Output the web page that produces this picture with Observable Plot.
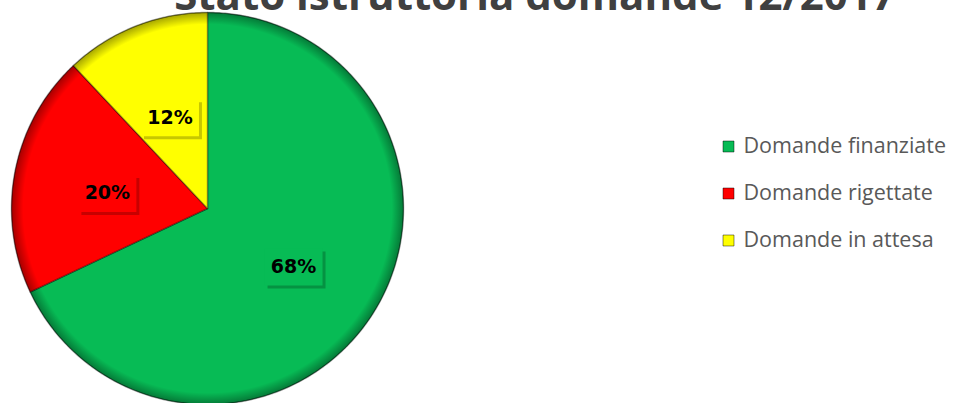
<!DOCTYPE html>
<html>
<head>
<meta charset="utf-8">
<script src="https://cdn.jsdelivr.net/npm/d3@7"></script>
<script src="https://cdn.jsdelivr.net/npm/@observablehq/plot@0.6"></script>
<style>
  html, body { margin: 0; padding: 0; background: #fff; }
  #chart { width: 953px; height: 403px; overflow: hidden; }
</style>
</head>
<body>
<div id="chart"></div>
<script>
const title = "Stato istruttoria domande 12/2017";
const categories = ["Domande finanziate", "Domande rigettate", "Domande in attesa"];
const values = [68, 20, 12];
const labels = ["68%", "20%", "12%"];
const colors = ["#07BB55", "#FF0000", "#FFFF00"];

const W = 953, H = 403;
const cx = 207, cy = 208, R = 196;

const data = categories.map((c, i) => ({category: c, value: values[i], label: labels[i]}));
const arcs = d3.pie().sort(null).value(d => d.value)(data);

// polygon points for each slice (unit circle coordinates, derived from data)
const slicePts = [];
arcs.forEach(a => {
  const n = Math.max(2, Math.ceil((a.endAngle - a.startAngle) / 0.01));
  slicePts.push({category: a.data.category, x: 0, y: 0});
  for (let k = 0; k <= n; k++) {
    const t = a.startAngle + (a.endAngle - a.startAngle) * k / n;
    slicePts.push({category: a.data.category, x: Math.sin(t), y: Math.cos(t)});
  }
});
const labelPts = arcs.map(a => {
  const m = (a.startAngle + a.endAngle) / 2;
  return {category: a.data.category, label: a.data.label, x: 0.52 * Math.sin(m), y: 0.52 * Math.cos(m)};
});

const boxSymbol = {draw(ctx) { ctx.rect(-29, -18.5, 58, 37); }};
const swatchSymbol = {draw(ctx) { ctx.rect(-5.5, -5.5, 11, 11); }};

const legendMarks = [];
categories.forEach((c, i) => {
  const yy = 146 + i * 47;
  legendMarks.push(Plot.dot([c], {frameAnchor: "top-left", dx: 728, dy: yy, fill: d => d, symbol: swatchSymbol, r: 1, stroke: "rgba(0,0,0,0.45)", strokeWidth: 1}));
  legendMarks.push(Plot.text([c], {frameAnchor: "top-left", dx: 743, dy: yy, text: d => d, textAnchor: "start", lineAnchor: "middle", fontSize: 21.5, fill: "#595959", fontFamily: "Open Sans"}));
});

const plot = Plot.plot({
  width: W, height: H,
  margin: 0,
  style: {background: "#fff", overflow: "visible"},
  x: {domain: [-1, 1], range: [cx - R, cx + R], axis: null},
  y: {domain: [-1, 1], range: [cy + R, cy - R], axis: null},
  color: {domain: categories, range: colors},
  marks: [
    Plot.line(slicePts, {x: "x", y: "y", z: "category", fill: "category", stroke: "rgba(0,0,0,0.35)", strokeWidth: 1.5, curve: "linear-closed", strokeLinejoin: "round"}),
    Plot.dot([0], {x: () => 0, y: () => 0, r: R, fill: "url(#rimShade)", stroke: "rgba(0,0,0,0.3)", strokeWidth: 1}),
    Plot.dot(labelPts, {x: "x", y: "y", symbol: boxSymbol, r: 1, fill: "rgba(0,0,0,0.22)", dx: 3, dy: 7}),
    Plot.dot(labelPts, {x: "x", y: "y", symbol: boxSymbol, r: 1, fill: "category", dy: 4}),
    Plot.text(labelPts, {x: "x", y: "y", dy: 4, text: "label", fontSize: 19, fontWeight: "bold", fontFamily: "DejaVu Sans", fill: "#000"}),
    Plot.text([title], {frameAnchor: "top", dx: 58, dy: 9, lineAnchor: "bottom", text: d => d, fontSize: 42, fontWeight: "bold", fontFamily: "Open Sans", fill: "#404040"}),
    ...legendMarks
  ]
});

const svg = d3.select(plot);
const defs = svg.insert("defs", ":first-child");
const g = defs.append("radialGradient").attr("id", "rimShade").attr("cx", "50%").attr("cy", "50%").attr("r", "50%");
g.append("stop").attr("offset", "0%").attr("stop-color", "#000").attr("stop-opacity", 0);
g.append("stop").attr("offset", "94%").attr("stop-color", "#000").attr("stop-opacity", 0);
g.append("stop").attr("offset", "100%").attr("stop-color", "#000").attr("stop-opacity", 0.35);

document.getElementById("chart").appendChild(plot);
</script>
</body>
</html>
